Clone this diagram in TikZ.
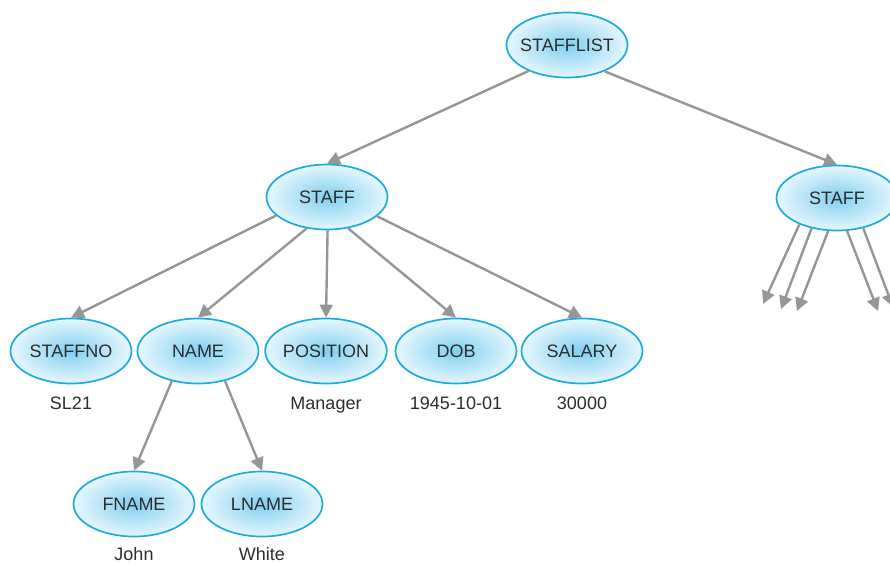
\documentclass[tikz,border=0pt]{standalone}
\usepackage{fontspec}
\setmainfont{Liberation Sans}
\usetikzlibrary{shapes.geometric,arrows.meta}
\definecolor{ebord}{RGB}{27,170,225}
\definecolor{ein}{RGB}{128,207,240}
\definecolor{eout}{RGB}{230,247,253}
\definecolor{arr}{RGB}{150,150,150}
\definecolor{txt}{RGB}{45,45,45}
\begin{document}
\begin{tikzpicture}[x=1pt,y=-1pt,
  ent/.style={ellipse, draw=ebord, line width=1.7pt, inner color=ein, outer color=eout,
    minimum width=121pt, minimum height=65pt, inner sep=0pt, text=txt,
    font=\fontsize{18}{22}\selectfont},
  val/.style={anchor=base, text=txt, font=\fontsize{18}{22}\selectfont},
  link/.style={draw=arr, line width=2.4pt, -{Triangle[length=13pt,width=13pt]}}]
\useasboundingbox (0,0) rectangle (890,563);
\clip (0,0) rectangle (890,563);
% entities
\node[ent] (list) at (567,45) {\makebox[0pt]{STAFFLIST}};
\node[ent] (staff) at (327,197) {STAFF};
\node[ent] (staffb) at (837,198) {STAFF};
\node[ent] (sno) at (71,351) {STAFFNO};
\node[ent] (name) at (198,351) {NAME};
\node[ent] (pos) at (326,351) {POSITION};
\node[ent] (dob) at (456,351) {DOB};
\node[ent] (sal) at (582,351) {SALARY};
\node[ent] (fn) at (134,504) {FNAME};
\node[ent] (ln) at (262,504) {LNAME};
% values
\node[val] (vsno) at (71,409) {SL21};
\node[val] (vpos) at (326,409) {Manager};
\node[val] (vdob) at (456,409) {1945-10-01};
\node[val] (vsal) at (582,409) {30000};
\node[val] (vfn) at (134,560) {John};
\node[val] (vln) at (262,560) {White};
% free ends below the second STAFF
\coordinate (e1) at (763,304);
\coordinate (e2) at (781,309);
\coordinate (e3) at (797,311);
\coordinate (e4) at (878,311);
\coordinate (e5) at (893,307);
% connectors
\draw[link] (list.214) -- (staff.north);
\draw[link] (list.325) -- (staffb.north);
\draw[link] (staff.200) -- (sno.north);
\draw[link] (staff.237) -- (name.north);
\draw[link] (staff.271) -- (pos.north);
\draw[link] (staff.304) -- (dob.north);
\draw[link] (staff.339) -- (sal.north);
\draw[link] (name.229) -- (fn.north);
\draw[link] (name.312) -- (ln.north);
\draw[link] (staffb.215) -- (e1);
\draw[link] (staffb.230) -- (e2);
\draw[link] (staffb.255) -- (e3);
\draw[link] (staffb.287) -- (e4);
\draw[link] (staffb.311) -- (e5);
\end{tikzpicture}
\end{document}
